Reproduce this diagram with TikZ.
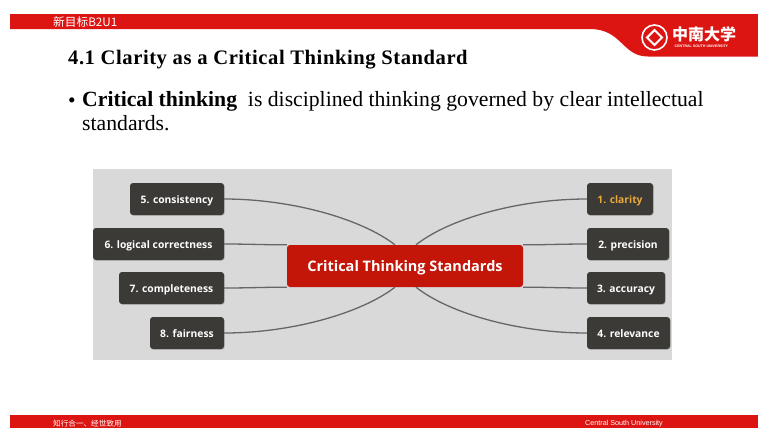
\documentclass[tikz,border=0pt]{standalone}
\usepackage{fontspec}
\setmainfont{Liberation Serif}
\newfontfamily\nodefont{Open Sans}
\newfontfamily\cjk{Noto Sans CJK SC}
\newfontfamily\barfont{Liberation Sans}
\newfontfamily\titlefont[LetterSpace=2.7]{Liberation Serif}
\usetikzlibrary{shadows,calc}
\definecolor{barred}{HTML}{DC1513}
\definecolor{panel}{HTML}{D9D9D9}
\definecolor{boxdark}{HTML}{3B3A36}
\definecolor{corered}{HTML}{C31508}
\definecolor{wire}{HTML}{666666}
\definecolor{gold}{HTML}{EBA93A}
\tikzset{
  leaf/.style={draw=none,fill=boxdark,rounded corners=3bp,minimum height=32bp,inner sep=0pt,
    text height=8bp,text depth=0bp,
    text=white,font=\nodefont\bfseries\fontsize{10.3bp}{12bp}\selectfont,
    drop shadow={shadow xshift=0.7bp,shadow yshift=-0.7bp,opacity=.2,fill=black}},
  core/.style={fill=corered,rounded corners=3bp,minimum width=236bp,minimum height=42bp,inner sep=0pt,
    text height=10bp,text depth=0bp,
    text=white,font=\nodefont\bfseries\fontsize{14.5bp}{17bp}\selectfont},
  wireline/.style={draw=wire,line width=1.3bp},
  bartext/.style={text=white,inner sep=0pt,anchor=west},
}
\begin{document}
\begin{tikzpicture}[x=1bp,y=-1bp]
\useasboundingbox (0,0) rectangle (758,428);
\fill[white] (0,0) rectangle (758,428);
% header and footer bands
\fill[barred] (10,14) -- (758,14) -- (758,56.5) -- (648,56.5)
  .. controls (622,56.5) and (622,29) .. (590,29) -- (10,29) -- cycle;
\fill[barred] (10,415) rectangle (758,428);
\node[bartext,font=\cjk\fontsize{11.7bp}{13bp}\selectfont] (hdr) at (53,22.3) {新目标B2U1};
\node[bartext,font=\cjk\fontsize{7.6bp}{9bp}\selectfont] (ftl) at (53,423.5) {知行合一、经世致用};
\node[bartext,font=\barfont\fontsize{7.2bp}{8bp}\selectfont] (ftr) at (585,423.5) {Central South University};
% logo
\node[circle,draw=white,line width=1.6bp,minimum size=25bp,inner sep=0pt] (logo) at (654.5,37.5) {};
\node[rotate=45,draw=white,line width=2bp,minimum size=10.5bp,inner sep=0pt] (logoin) at (654.5,37.5) {};
\node[bartext,font=\cjk\bfseries\fontsize{16bp}{18bp}\selectfont] (cn) at (672,34.5) {中南大学};
\node[bartext,font=\barfont\bfseries\fontsize{3.6bp}{4bp}\selectfont] (en) at (674.5,46) {CENTRAL SOUTH UNIVERSITY};
% heading and body text
\node[inner sep=0pt,anchor=west,font=\titlefont\bfseries\fontsize{20.6bp}{24bp}\selectfont] (title) at (68,59.5) {4.1 Clarity as a Critical Thinking Standard};
\node[inner sep=0pt,anchor=west,font=\fontsize{21.5bp}{26bp}\selectfont] (bul) at (68,103) {•};
\node[inner sep=0pt,anchor=west,font=\fontsize{21.7bp}{26bp}\selectfont] (l1) at (82,101) {\textbf{Critical thinking}\ \ is disciplined thinking governed by clear intellectual};
\node[inner sep=0pt,anchor=west,font=\fontsize{21.7bp}{26bp}\selectfont] (l2) at (82,123.5) {standards.};
% mind map
\fill[panel] (93,169) rectangle (672,360);
\node[core] (c) at (405,266) {Critical Thinking Standards};
\node[leaf,minimum width=94bp]  (n5) at (177,199) {5. consistency};
\node[leaf,minimum width=131bp] (n6) at (158.5,244) {6. logical correctness};
\node[leaf,minimum width=105bp] (n7) at (171.5,288) {7. completeness};
\node[leaf,minimum width=74bp]  (n8) at (187,333) {8. fairness};
\node[leaf,minimum width=66bp,text=gold] (n1) at (620,199) {1. clarity};
\node[leaf,minimum width=82bp]  (n2) at (628,244) {2. precision};
\node[leaf,minimum width=78bp]  (n3) at (626,288) {3. accuracy};
\node[leaf,minimum width=83bp]  (n4) at (628.5,333) {4. relevance};
\coordinate (ctl) at ($(c.north)+(-10,0)$);
\coordinate (ctr) at ($(c.north)+(11,0)$);
\coordinate (cbl) at ($(c.south)+(-10,0)$);
\coordinate (cbr) at ($(c.south)+(11,0)$);
\draw[wireline] (n5.east) .. controls (290,199) and (360,218) .. (ctl);
\draw[wireline] (n8.east) .. controls (290,333) and (360,314) .. (cbl);
\draw[wireline] (n1.west) .. controls (520,199) and (450,218) .. (ctr);
\draw[wireline] (n4.west) .. controls (520,333) and (450,314) .. (cbr);
\draw[wireline] (n6.east) .. controls (250,244) and (270,245) .. (c.north west);
\draw[wireline] (n7.east) .. controls (250,288) and (270,287) .. (c.south west);
\draw[wireline] (n2.west) .. controls (560,244) and (540,245) .. (c.north east);
\draw[wireline] (n3.west) .. controls (560,288) and (540,287) .. (c.south east);
\end{tikzpicture}
\end{document}
